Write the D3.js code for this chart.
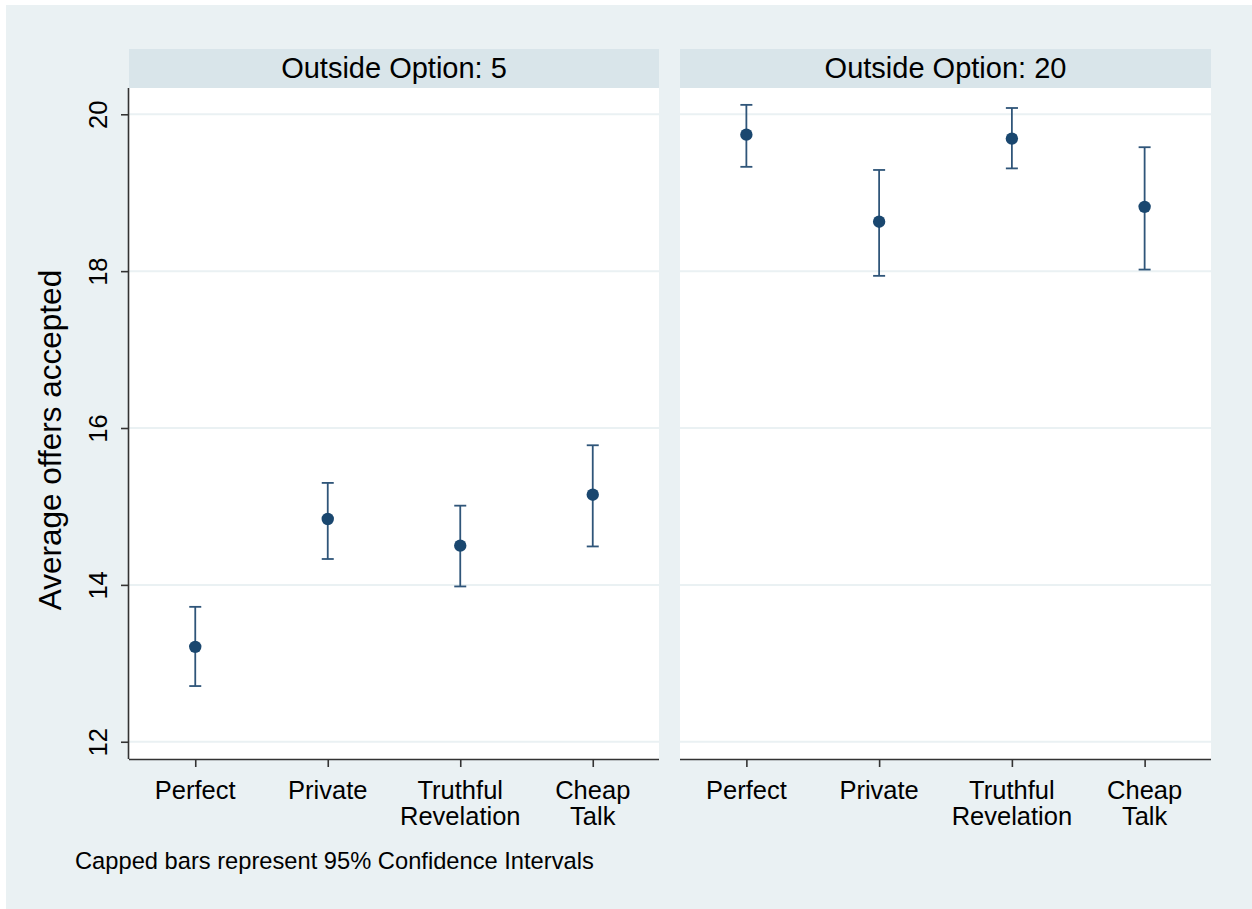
<!DOCTYPE html>
<html>
<head>
<meta charset="utf-8">
<script src="https://cdn.jsdelivr.net/npm/d3@7"></script>
<style>
  html, body { margin: 0; padding: 0; background: #ffffff; }
  svg { display: block; }
  text { font-family: "Liberation Sans", Arial, sans-serif; fill: #000; }
</style>
</head>
<body>
<svg id="chart" width="1252" height="909"></svg>
<script>
// Treatments shown along the x axis of each panel
const categories = ["Perfect", "Private", "Truthful Revelation", "Cheap Talk"];
const categoryLines = [["Perfect"], ["Private"], ["Truthful", "Revelation"], ["Cheap", "Talk"]];
const panels = ["Outside Option: 5", "Outside Option: 20"];

// Mean accepted offer and 95% CI bounds, outside option 5
const mean5 = [13.21, 14.84, 14.50, 15.15];
const lo5   = [12.71, 14.33, 13.98, 14.49];
const hi5   = [13.72, 15.30, 15.01, 15.78];

// Mean accepted offer and 95% CI bounds, outside option 20
const mean20 = [19.74, 18.63, 19.69, 18.82];
const lo20   = [19.33, 17.94, 19.31, 18.02];
const hi20   = [20.12, 19.29, 20.08, 19.58];

const yTicks = [12, 14, 16, 18, 20];
const noteText = "Capped bars represent 95% Confidence Intervals";
const yTitle = "Average offers accepted";

const series = [
  { title: panels[0], mean: mean5, lo: lo5, hi: hi5 },
  { title: panels[1], mean: mean20, lo: lo20, hi: hi20 }
];

const svg = d3.select("#chart");
const W = 1252, H = 909;

// outer graph region
svg.append("rect").attr("x", 6).attr("y", 5).attr("width", W - 6).attr("height", H - 5)
  .attr("fill", "#eaf1f3");

const plotTop = 88, plotBottom = 759, stripTop = 49;
const panelX = [[129, 659], [680, 1211]];

const y = d3.scaleLinear().domain([11.78, 20.335]).range([plotBottom, plotTop]);

const markColor = "#1a476f";
const ciColor = "#2f5579";

series.forEach((s, i) => {
  const [x0, x1] = panelX[i];
  const x = d3.scalePoint().domain(categories).range([x0, x1]).padding(0.5);
  const g = svg.append("g");

  // title strip
  g.append("rect").attr("x", x0).attr("y", stripTop).attr("width", x1 - x0).attr("height", plotTop - stripTop)
    .attr("fill", "#d9e5ea");
  g.append("text").attr("x", (x0 + x1) / 2).attr("y", 78).attr("text-anchor", "middle")
    .attr("font-size", 29).text(s.title);

  // plot area
  g.append("rect").attr("x", x0).attr("y", plotTop).attr("width", x1 - x0).attr("height", plotBottom - plotTop)
    .attr("fill", "#ffffff");

  // horizontal grid
  g.selectAll(".grid").data(yTicks).join("line")
    .attr("x1", x0).attr("x2", x1)
    .attr("y1", d => y(d)).attr("y2", d => y(d))
    .attr("stroke", "#eaf1f3").attr("stroke-width", 2);

  // x axis
  const xAxis = g.append("g").attr("transform", `translate(0,${plotBottom})`)
    .call(d3.axisBottom(x).tickSize(8).tickFormat(""));
  xAxis.select(".domain").attr("stroke", "#333").attr("stroke-width", 1.6)
    .attr("d", `M${x0},0.5H${x1}`);
  xAxis.selectAll(".tick line").attr("stroke", "#333").attr("stroke-width", 1.6);

  categories.forEach((c, k) => {
    const t = g.append("text").attr("x", x(c)).attr("y", 799).attr("text-anchor", "middle")
      .attr("font-size", 25.5);
    categoryLines[k].forEach((ln, j) => {
      t.append("tspan").attr("x", x(c)).attr("dy", j === 0 ? 0 : 26).text(ln);
    });
  });

  // y axis only on the first panel
  if (i === 0) {
    const yAxis = g.append("g").attr("transform", `translate(${x0},0)`)
      .call(d3.axisLeft(y).tickValues(yTicks).tickSize(8).tickFormat(d3.format("d")));
    yAxis.select(".domain").attr("stroke", "#333").attr("stroke-width", 1.6)
      .attr("d", `M-0.5,${plotTop}V${plotBottom}`);
    yAxis.selectAll(".tick line").attr("stroke", "#333").attr("stroke-width", 1.6);
    yAxis.selectAll(".tick text")
      .attr("font-size", 25.5).attr("fill", "#000")
      .attr("font-family", "'Liberation Sans', Arial, sans-serif")
      .attr("x", null).attr("dy", null)
      .attr("text-anchor", "middle")
      .attr("transform", "translate(-22,0) rotate(-90)");
  }

  // confidence intervals
  const capHalf = 6;
  categories.forEach((c, k) => {
    const cx = x(c);
    g.append("line").attr("x1", cx).attr("x2", cx).attr("y1", y(s.lo[k])).attr("y2", y(s.hi[k]))
      .attr("stroke", ciColor).attr("stroke-width", 1.8);
    [s.lo[k], s.hi[k]].forEach(v => {
      g.append("line").attr("x1", cx - capHalf).attr("x2", cx + capHalf).attr("y1", y(v)).attr("y2", y(v))
        .attr("stroke", ciColor).attr("stroke-width", 1.8);
    });
  });

  // means
  g.selectAll(".pt").data(categories).join("circle")
    .attr("cx", d => x(d)).attr("cy", (d, k) => y(s.mean[k])).attr("r", 6.2)
    .attr("fill", markColor);
});

// y axis title
svg.append("text").attr("transform", "translate(61,440) rotate(-90)").attr("text-anchor", "middle")
  .attr("font-size", 31.5).text(yTitle);

// note
svg.append("text").attr("x", 75).attr("y", 869).attr("font-size", 23.7).text(noteText);
</script>
</body>
</html>
